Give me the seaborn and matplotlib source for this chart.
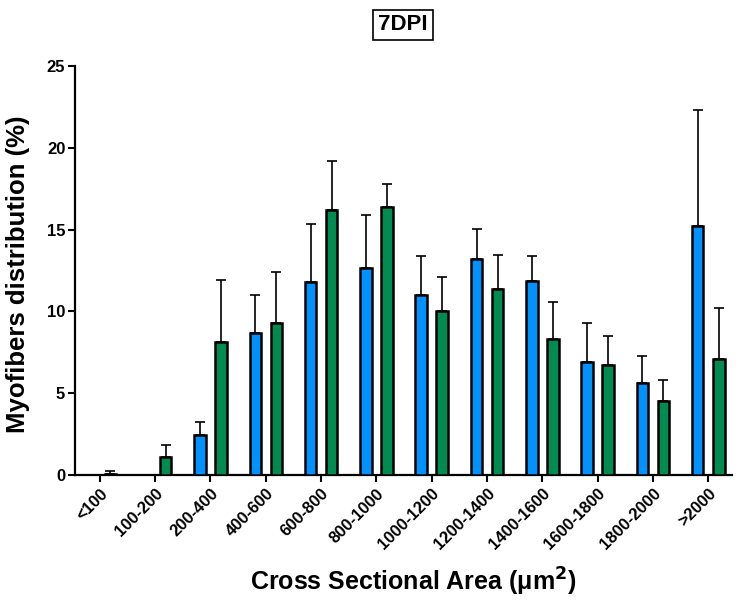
import numpy as np
import pandas as pd
import matplotlib
matplotlib.use("Agg")
import matplotlib.pyplot as plt
import seaborn as sns

# Fibre size bins (cross sectional area, µm²)
categories = ["<100", "100-200", "200-400", "400-600", "600-800", "800-1000",
              "1000-1200", "1200-1400", "1400-1600", "1600-1800", "1800-2000", ">2000"]

# Mean distribution (%) and upper error (SD) for each series
blue_mean = [0.0, 0.0, 2.47, 8.65, 11.79, 12.65, 11.02, 13.22, 11.87, 6.89, 5.65, 15.20]
blue_sd = [0.0, 0.0, 0.80, 2.37, 3.57, 3.26, 2.34, 1.79, 1.53, 2.43, 1.65, 7.10]
green_mean = [0.08, 1.12, 8.12, 9.28, 16.22, 16.36, 10.04, 11.36, 8.32, 6.73, 4.51, 7.10]
green_sd = [0.14, 0.72, 3.81, 3.10, 3.00, 1.43, 2.04, 2.08, 2.23, 1.78, 1.30, 3.12]

series_names = ["series_a", "series_b"]
palette = {"series_a": "#0092FF", "series_b": "#008C50"}

df = pd.DataFrame({
    "bin": categories * 2,
    "series": [series_names[0]] * len(categories) + [series_names[1]] * len(categories),
    "value": blue_mean + green_mean,
})
errs = [blue_sd, green_sd]

sns.set_theme(style="ticks")
plt.rcParams["font.family"] = ["Liberation Sans", "DejaVu Sans"]
plt.rcParams["font.weight"] = "bold"
for key in ["text.color", "axes.labelcolor", "xtick.color", "ytick.color",
            "axes.edgecolor"]:
    plt.rcParams[key] = "black"

fig = plt.figure(figsize=(7.52, 6.02), dpi=100)
ax = fig.add_axes([75 / 752, 1 - 475 / 602, (732 - 75) / 752, (475 - 66) / 602])

sns.barplot(data=df, x="bin", y="value", hue="series", order=categories,
            hue_order=series_names, palette=palette, errorbar=None,
            width=0.76, gap=0.45, edgecolor="black", linewidth=1.8,
            saturation=1, legend=False, ax=ax, zorder=3)

# upper-only error bars on top of each bar
for container, sd in zip(ax.containers, errs):
    xs, ys, es = [], [], []
    for bar, e in zip(container, sd):
        if bar.get_height() <= 0 and e <= 0:
            continue
        xs.append(bar.get_x() + bar.get_width() / 2)
        ys.append(bar.get_height())
        es.append(e)
    ax.errorbar(xs, ys, yerr=[np.zeros(len(es)), es], fmt="none",
                ecolor="black", elinewidth=1.2, capsize=3.5, capthick=1.2,
                zorder=2)

ax.set_xlim(-0.45, 11.43)
ax.set_ylim(0, 25)
ax.set_yticks([0, 5, 10, 15, 20, 25])

for side in ["top", "right"]:
    ax.spines[side].set_visible(False)
for side in ["left", "bottom"]:
    ax.spines[side].set_linewidth(1.6)
    ax.spines[side].set_color("black")

ax.tick_params(axis="both", colors="black", width=1.5, length=5)
ax.tick_params(axis="y", labelsize=12, pad=2)
ax.tick_params(axis="x", labelsize=12, pad=3)
plt.setp(ax.get_xticklabels(), rotation=45, ha="right", rotation_mode="anchor",
         fontweight="bold")
plt.setp(ax.get_yticklabels(), fontweight="bold")

ax.set_xlabel("Cross Sectional Area (μm$^\\mathbf{2}$)", fontsize=18,
              fontweight="bold", labelpad=10)
ax.xaxis.set_label_coords(0.515, -0.222)
ax.set_ylabel("Myofibers distribution (%)", fontsize=18.5, fontweight="bold",
              labelpad=8)
ax.yaxis.set_label_coords(-0.068, 0.49)

fig.text(403 / 752, 1 - 25 / 602, "7DPI", ha="center", va="center",
         fontsize=16, fontweight="bold",
         bbox=dict(boxstyle="square,pad=0.22", facecolor="white",
                   edgecolor="black", linewidth=1.2))

fig.savefig("out.png", dpi=100)
